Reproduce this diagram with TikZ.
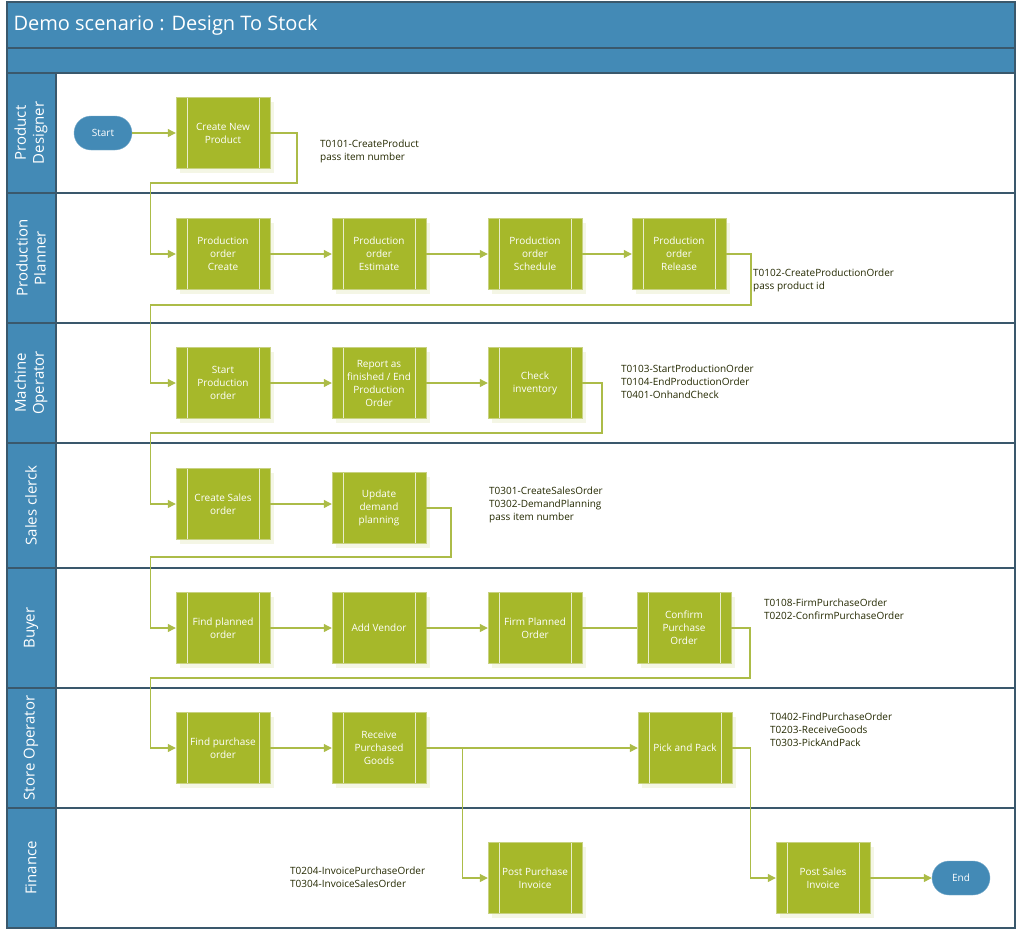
\documentclass[tikz,border=0pt]{standalone}
\usepackage{fontspec}
\setmainfont{Open Sans}
\usetikzlibrary{arrows.meta,shadows}

\definecolor{laneblue}{RGB}{67,138,182}
\definecolor{laneline}{RGB}{58,88,108}
\definecolor{taskgreen}{RGB}{166,184,42}
\definecolor{taskedge}{RGB}{200,210,130}
\definecolor{flowgreen}{RGB}{172,188,72}
\definecolor{notetext}{RGB}{35,40,0}

\begin{document}
\begin{tikzpicture}[x=1pt, y=-1pt,
    task/.style={rectangle, draw=taskedge, fill=taskgreen, minimum width=94pt, minimum height=71pt,
        align=center, text=white, inner sep=0pt, font=\fontsize{10}{13}\selectfont,
        drop shadow={shadow xshift=4pt, shadow yshift=-4pt, fill=taskgreen!12, opacity=1},
        path picture={\draw[taskgreen!25, line width=1pt]
            ([xshift=11pt]path picture bounding box.north west) -- ([xshift=11pt]path picture bounding box.south west)
            ([xshift=-11pt]path picture bounding box.north east) -- ([xshift=-11pt]path picture bounding box.south east);}},
    terminal/.style={rectangle, rounded corners=17pt, fill=laneblue, draw=laneblue!70, minimum width=58pt,
        minimum height=34pt, text=white, font=\fontsize{10}{12}\selectfont},
    note/.style={anchor=west, align=left, inner sep=0pt, text=notetext, font=\fontsize{10}{13}\selectfont},
    lanelabel/.style={rotate=90, align=center, text=white, font=\fontsize{15}{18}\selectfont},
    flow/.style={draw=flowgreen, line width=1.1pt, -{Triangle[length=8pt, width=8pt]}}
]
    \useasboundingbox (0,0) rectangle (1016,930);

    % Pool and header
    \fill[laneblue] (7,2) rectangle (1015,73);
    \fill[laneblue] (7,73) rectangle (56,928);
    \node[anchor=west, text=white, font=\fontsize{20}{24}\selectfont] (title) at (10,25) {Demo scenario : Design To Stock};
    \draw[laneline, line width=1.2pt] (7,48) -- (1015,48);
    \draw[laneline, line width=1.2pt] (7,73) -- (1015,73);
    \draw[laneline, line width=1.2pt] (56,73) -- (56,928);

    % Lanes
    \foreach \top/\bot/\name [count=\i] in {73/193/{Product\\Designer}, 193/323/{Production\\Planner},
        323/443/{Machine\\Operator}, 443/568/{Sales clerck}, 568/688/{Buyer},
        688/808/{Store Operator}, 808/928/{Finance}} {
        \draw[laneline, line width=1.2pt] (7,\bot) -- (1015,\bot);
        \node[lanelabel] (lane\i) at (31,{(\top+\bot)/2}) {\name};
    }
    \draw[laneline, line width=1.2pt] (7,2) rectangle (1015,928);

    % Product Designer
    \node[terminal] (start) at (103,133) {Start};
    \node[task] (newprod) at (223,133) {Create New\\Product};
    \node[note] (note1) at (320,151.5) {T0101-CreateProduct\\pass item number};

    % Production Planner
    \node[task] (pocreate) at (223,254) {Production\\order\\Create};
    \node[task] (poestimate) at (379,254) {Production\\order\\Estimate};
    \node[task] (poschedule) at (535,254) {Production\\order\\Schedule};
    \node[task] (porelease) at (679,254) {Production\\order\\Release};
    \node[note] (note2) at (753,280.5) {T0102-CreateProductionOrder\\pass product id};

    % Machine Operator
    \node[task] (postart) at (223,383) {Start\\Production\\order};
    \node[task] (poend) at (379,383) {Report as\\finished / End\\Production\\Order};
    \node[task] (checkinv) at (535,383) {Check\\inventory};
    \node[note] (note3) at (621,382) {T0103-StartProductionOrder\\T0104-EndProductionOrder\\T0401-OnhandCheck};

    % Sales clerck
    \node[task] (salesorder) at (223,504) {Create Sales\\order};
    \node[task] (demandplan) at (379,508) {Update\\demand\\planning};
    \node[note] (note4) at (489,505) {T0301-CreateSalesOrder\\T0302-DemandPlanning\\pass item number};

    % Buyer
    \node[task] (findplanned) at (223,628) {Find planned\\order};
    \node[task] (addvendor) at (379,628) {Add Vendor};
    \node[task] (firmplanned) at (535,628) {Firm Planned\\Order};
    \node[task] (confirmpo) at (684,628) {Confirm\\Purchase\\Order};
    \node[note] (note5) at (764,609.5) {T0108-FirmPurchaseOrder\\T0202-ConfirmPurchaseOrder};

    % Store Operator
    \node[task] (findpo) at (223,748) {Find purchase\\order};
    \node[task] (receive) at (379,748) {Receive\\Purchased\\Goods};
    \node[task] (pickpack) at (685,748) {Pick and Pack};
    \node[note] (note6) at (770,730) {T0402-FindPurchaseOrder\\T0203-ReceiveGoods\\T0303-PickAndPack};

    % Finance
    \node[task] (purchinv) at (535,878) {Post Purchase\\Invoice};
    \node[task] (salesinv) at (823,878) {Post Sales\\Invoice};
    \node[terminal] (finish) at (961,878) {End};
    \node[note] (note7) at (290,877.5) {T0204-InvoicePurchaseOrder\\T0304-InvoiceSalesOrder};

    % Flow
    \draw[flow] (start) -- (newprod);
    \draw[flow] (newprod.east) -| (297,183) -| ([xshift=-25pt]pocreate.west) -- (pocreate.west);
    \draw[flow] (pocreate) -- (poestimate);
    \draw[flow] (poestimate) -- (poschedule);
    \draw[flow] (poschedule) -- (porelease);
    \draw[flow] (porelease.east) -| (751,305) -| ([xshift=-25pt]postart.west) -- (postart.west);
    \draw[flow] (postart) -- (poend);
    \draw[flow] (poend) -- (checkinv);
    \draw[flow] (checkinv.east) -| (602,433) -| ([xshift=-25pt]salesorder.west) -- (salesorder.west);
    \draw[flow] (salesorder.east) -- (salesorder.east -| demandplan.west);
    \draw[flow] (demandplan.east) -| (451,557) -| ([xshift=-25pt]findplanned.west) -- (findplanned.west);
    \draw[flow] (findplanned) -- (addvendor);
    \draw[flow] (addvendor) -- (firmplanned);
    \draw[flow, -] (firmplanned) -- (confirmpo);
    \draw[flow] (confirmpo.east) -| (750,678) -| ([xshift=-25pt]findpo.west) -- (findpo.west);
    \draw[flow] (findpo) -- (receive);
    \draw[flow] (receive) -- (pickpack);
    \draw[flow] ([xshift=36pt]receive.east) |- (purchinv.west);
    \draw[flow] (pickpack.east) -| ([xshift=-25pt]salesinv.west) -- (salesinv.west);
    \draw[flow] (salesinv) -- (finish);

\end{tikzpicture}
\end{document}
